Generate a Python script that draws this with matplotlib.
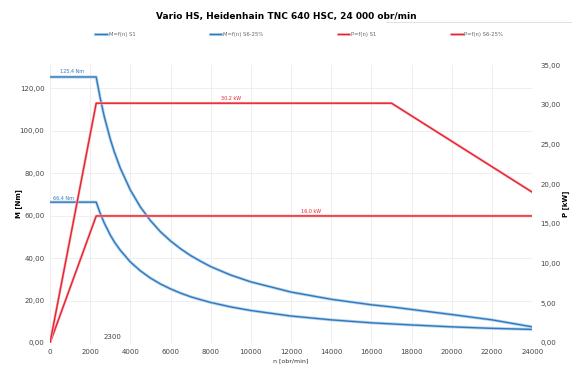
import matplotlib.pyplot as plt
import matplotlib.patheffects as pe
from matplotlib.ticker import FuncFormatter

# otacky [obr/min]
rpm = [0, 2300, 2500, 2700, 3000, 3200, 3500, 4000, 4500, 5000, 5500, 6000, 6500,
       7000, 7500, 8000, 9000, 10000, 12000, 14000, 16000, 17000, 18000, 20000,
       22000, 24000]
# moment [Nm]
m_s6 = [125.4, 125.4, 115.4, 106.8, 96.1, 90.1, 82.4, 72.1, 64.1, 57.7, 52.4, 48.1,
        44.4, 41.2, 38.5, 36.0, 32.0, 28.8, 24.0, 20.6, 18.0, 17.0, 15.8, 13.4,
        10.9, 7.6]
m_s1 = [66.4, 66.4, 61.1, 56.6, 50.9, 47.7, 43.7, 38.2, 34.0, 30.6, 27.8, 25.5,
        23.5, 21.8, 20.4, 19.1, 17.0, 15.3, 12.7, 10.9, 9.5, 9.0, 8.5, 7.6, 6.9, 6.4]
# vykon [kW]
p_rpm_s1 = [0, 2300, 24000]
p_s1 = [0, 16.0, 16.0]
p_rpm_s6 = [0, 2300, 17000, 24000]
p_s6 = [0, 30.2, 30.2, 19.0]

blue = '#3577b8'
red = '#e8232f'
halo = [pe.Stroke(linewidth=2.2, foreground='#b3d6f2'), pe.Normal()]
rhalo = [pe.Stroke(linewidth=1.9, foreground='#f5b3b8'), pe.Normal()]

fig = plt.figure(figsize=(5.72, 3.72), dpi=100)
ax = fig.add_axes([0.0874, 0.078, 0.843, 0.747])
ax2 = ax.twinx()

l1, = ax.plot(rpm, m_s1, color=blue, lw=1.0, path_effects=halo, label='M=f(n) S1')
l2, = ax.plot(rpm, m_s6, color=blue, lw=1.0, path_effects=halo, label='M=f(n) S6-25%')
l3, = ax2.plot(p_rpm_s1, p_s1, color=red, lw=1.0, path_effects=rhalo, label='P=f(n) S1')
l4, = ax2.plot(p_rpm_s6, p_s6, color=red, lw=1.0, path_effects=rhalo, label='P=f(n) S6-25%')

ax.set_xlim(0, 24000)
ax.set_ylim(0, 131)
ax2.set_ylim(0, 35)
ax.set_xticks(range(0, 24001, 2000))
ax.set_yticks(range(0, 121, 20))
ax2.set_yticks(range(0, 36, 5))
comma = FuncFormatter(lambda v, p: f'{v:.2f}'.replace('.', ','))
ax.yaxis.set_major_formatter(comma)
ax2.yaxis.set_major_formatter(comma)

for a in (ax, ax2):
    for s in a.spines.values():
        s.set_visible(False)
    a.tick_params(length=0, labelsize=5, colors='#444444', pad=4)
ax2.tick_params(pad=6)
ax.grid(True, color='#ececec', lw=0.6)
ax.set_axisbelow(True)

ax.set_xlabel('n [obr/min]', fontsize=4.5, color='#333333', labelpad=3)
ax.set_ylabel('M [Nm]', fontsize=5, fontweight='bold', labelpad=-2)
ax2.set_ylabel('P [kW]', fontsize=5, fontweight='bold', labelpad=1)

ax.text(1100, m_s6[0] + 1.5, '125,4 Nm', color=blue, fontsize=3.5, ha='center', va='bottom')
ax.text(150, m_s1[0] + 0.5, '66,4 Nm', color=blue, fontsize=3.5, ha='left', va='bottom')
ax2.text(9000, p_s6[1] + 0.3, '30,2 kW', color=red, fontsize=3.5, ha='center', va='bottom')
ax2.text(13000, p_s1[1] + 0.3, '16,0 kW', color=red, fontsize=3.5, ha='center', va='bottom')
ax.text(3100, 1.5, '2300', fontsize=5, color='#444444', ha='center', va='bottom')

fig.text(0.5, 0.955, 'Vario HS, Heidenhain TNC 640 HSC, 24 000 obr/min',
         fontsize=6.5, fontweight='bold', ha='center', va='center')
fig.add_artist(plt.Line2D([0.675, 1.0], [0.94, 0.94], color='#dddddd', lw=0.6))

fig.legend(handles=[l1, l2, l3, l4], loc='lower left', ncol=4, mode='expand',
           bbox_to_anchor=(0.163, 0.895, 0.72, 0.03), frameon=False,
           fontsize=3.8, handlelength=2.2, handletextpad=0.3, labelcolor='#666666',
           borderaxespad=0)

fig.savefig('out.png', dpi=100)
